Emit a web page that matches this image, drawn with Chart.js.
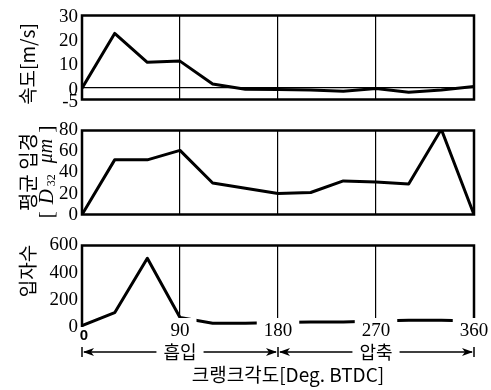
<!DOCTYPE html>
<html><head><meta charset="utf-8">
<script src="https://cdn.jsdelivr.net/npm/chart.js@4"></script>
<style>
html,body{margin:0;padding:0;background:#fff;}
#wrap{position:relative;width:491px;height:390px;background:#fff;}
canvas{position:absolute;left:0;}
</style></head><body>
<div id="wrap">
<canvas id="c1" width="491" height="115" style="top:0"></canvas>
<canvas id="c2" width="491" height="115" style="top:115px"></canvas>
<canvas id="c3" width="491" height="160" style="top:230px"></canvas>
</div>
<script>
const angles = [0, 30, 60, 90, 120, 150, 180, 210, 240, 270, 300, 330, 360];
const speed = [-0.3, 22.5, 10.5, 11, 1.5, -0.7, -0.8, -1, -1.5, -0.4, -1.9, -1, 0.4];
const diameter = [0, 52, 52, 61, 30, 25, 20, 21, 32, 31, 29, 81, 0];
const count = [10, 105, 505, 70, 28, 28, 33, 36, 36, 45, 50, 50, 45];
const xTicks = [0, 90, 180, 270, 360];
const speedTicks = [-5, 0, 10, 20, 30];
const diamTicks = [0, 20, 40, 60, 80];
const countTicks = [0, 200, 400, 600];
const speedTitle = '속도[m/s]';
const diamTitle1 = '평균 입경';
const countTitle = '입자수';
const phaseLabels = ['흡입', '압축'];
const xTitle = '크랭크각도[Deg. BTDC]';

const KR = "'Noto Sans CJK KR', 'Noto Sans', sans-serif";
const SERIF = "'Liberation Serif', 'DejaVu Serif', serif";

function pts(vals){ return angles.map((a,i)=>({x:a, y:vals[i]})); }

function framePlugin(bottom){
  return {
    id:'frame',
    afterDatasetsDraw(chart){
      const {ctx, chartArea:a} = chart;
      ctx.save();
      ctx.strokeStyle = '#000';
      ctx.lineWidth = 2.5;
      ctx.beginPath();
      if (bottom) {
        ctx.rect(a.left, a.top, a.right - a.left, a.bottom - a.top);
      } else {
        ctx.moveTo(a.left, a.bottom); ctx.lineTo(a.left, a.top);
        ctx.lineTo(a.right, a.top); ctx.lineTo(a.right, a.bottom);
      }
      ctx.stroke();
      ctx.restore();
    }
  };
}

function titlePlugin(drawFn){
  return { id:'ytitle', afterDraw(chart){ const ctx = chart.ctx; ctx.save(); drawFn(ctx, chart); ctx.restore(); } };
}

function rotText(ctx, text, cx, cy, font){
  ctx.save();
  ctx.translate(cx, cy);
  ctx.rotate(-Math.PI/2);
  ctx.font = font;
  ctx.fillStyle = '#000';
  ctx.textAlign = 'center';
  ctx.textBaseline = 'middle';
  ctx.fillText(text, 0, 0);
  ctx.restore();
}

function makeChart(id, vals, yMin, yMax, yTicks, pad, opts){
  return new Chart(document.getElementById(id), {
    type:'line',
    data:{ datasets:[{ data: pts(vals), borderColor:'#000', borderWidth:3, pointRadius:0, tension:0, fill:false, borderJoinStyle:'round', borderCapStyle:'round' }] },
    options:{
      responsive:false, animation:false, devicePixelRatio:1,
      layout:{ padding: pad },
      plugins:{ legend:{display:false}, tooltip:{enabled:false} },
      scales:{
        x:{
          type:'linear', min:0, max:360,
          afterBuildTicks: s => { s.ticks = xTicks.map(v=>({value:v})); },
          afterFit: s => { s.height = 0; },
          border:{display:false},
          grid:{ color:'#000', lineWidth:1.2, drawTicks:false },
          ticks:{ display:false }
        },
        y:{
          min:yMin, max:yMax,
          afterBuildTicks: s => { s.ticks = yTicks.map(v=>({value:v})); },
          afterFit: s => { s.width = 82; },
          border:{display:false},
          grid:{ drawTicks:false, lineWidth:1.2, color: c => (opts.zeroLine && c.tick && c.tick.value === 0) ? '#000' : 'rgba(0,0,0,0)' },
          ticks:{ color:'#000', padding:4, autoSkip:false, labelOffset: opts.labelOffset || 0, font:{family:SERIF, size:19} }
        }
      }
    },
    plugins:[framePlugin(!opts.noBottom), titlePlugin(opts.title)].concat(opts.extra || [])
  });
}

// Panel 1: speed
makeChart('c1', speed, -5, 30, speedTicks, {top:11, bottom:12, left:0, right:17}, {
  zeroLine:true, labelOffset:2,
  title:(ctx)=>{ rotText(ctx, speedTitle, 28, 64, "19px " + KR); }
});

// Panel 2: diameter
makeChart('c2', diameter, 0, 80, diamTicks, {top:11, bottom:10, left:0, right:17}, {
  title:(ctx)=>{
    rotText(ctx, diamTitle1, 28, 57, "20px " + KR);
    const pieces = [
      {t:'[', f:"22px " + SERIF, dy:0},
      {t:'D', f:"italic 21px " + SERIF, dy:0},
      {t:'32', f:"12px " + SERIF, dy:5},
      {t:'μm', f:"italic 20px " + SERIF, dy:0},
      {t:']', f:"22px " + SERIF, dy:0}
    ];
    const gaps = [4, 0, 8, 3];
    ctx.translate(47, 57);
    ctx.rotate(-Math.PI/2);
    ctx.fillStyle = '#000';
    ctx.textBaseline = 'middle';
    ctx.textAlign = 'left';
    let total = 0;
    pieces.forEach((p,i)=>{ ctx.font = p.f; p.w = ctx.measureText(p.t).width; total += p.w + (i < gaps.length ? gaps[i] : 0); });
    const target = 93;
    const extra = Math.max(0, (target - total) / gaps.length);
    let x = -Math.max(total, target) / 2;
    pieces.forEach((p,i)=>{
      ctx.font = p.f;
      ctx.fillText(p.t, x, p.dy);
      x += p.w + (i < gaps.length ? gaps[i] + extra : 0);
    });
  }
});

// Panel 3: x tick labels (over the data, with white backdrop) + phase arrows + axis title
const xLabelPlugin = {
  id:'xlabels',
  afterDatasetsDraw(chart){
    const ctx = chart.ctx, sx = chart.scales.x, a = chart.chartArea;
    ctx.save();
    ctx.textAlign = 'center'; ctx.textBaseline = 'middle';
    sx.ticks.forEach(t => {
      const x = sx.getPixelForValue(t.value);
      const label = String(t.value);
      if (t.value === 0) {
        ctx.font = "bold 15px 'Liberation Sans', sans-serif";
        ctx.fillStyle = '#000';
        ctx.fillText(label, x + 2, a.bottom + 9);
      } else {
        ctx.font = "19px " + SERIF;
        const w = ctx.measureText(label).width;
        ctx.fillStyle = '#fff';
        ctx.fillRect(x - w/2 - 7, a.bottom - 9, w + 14, 22);
        ctx.fillStyle = '#000';
        ctx.fillText(label, x, a.bottom + 4);
      }
    });
    ctx.restore();
  }
};

const arrowPlugin = {
  id:'arrows',
  afterDraw(chart){
    const ctx = chart.ctx, sx = chart.scales.x;
    const y = 122;
    const px = v => sx.getPixelForValue(v);
    ctx.save();
    ctx.strokeStyle = '#000'; ctx.fillStyle = '#000'; ctx.lineWidth = 1.5;
    function head(tip, dir){
      ctx.beginPath();
      ctx.moveTo(tip, y);
      ctx.lineTo(tip + dir*11, y - 4);
      ctx.lineTo(tip + dir*8, y);
      ctx.lineTo(tip + dir*11, y + 4);
      ctx.closePath();
      ctx.fill();
    }
    function seg(a, b, label, c){
      ctx.font = "18px " + KR;
      const w = ctx.measureText(label).width;
      ctx.beginPath();
      ctx.moveTo(a + 2, y); ctx.lineTo(c - w/2 - 7, y);
      ctx.moveTo(c + w/2 + 7, y); ctx.lineTo(b - 2, y);
      ctx.stroke();
      head(a + 1, 1);
      head(b - 1, -1);
      ctx.textAlign = 'center'; ctx.textBaseline = 'middle';
      ctx.fillText(label, c, y);
    }
    seg(px(0), px(180), phaseLabels[0], px(90));
    seg(px(180), px(360), phaseLabels[1], px(270));
    [0,180,360].forEach(v=>{
      const x = px(v);
      ctx.beginPath(); ctx.moveTo(x, y - 5); ctx.lineTo(x, y + 5); ctx.stroke();
    });
    ctx.font = "19px " + KR;
    ctx.textAlign = 'center'; ctx.textBaseline = 'middle';
    ctx.fillText(xTitle, 288, 145);
    ctx.restore();
  }
};

makeChart('c3', count, 0, 600, countTicks, {top:13, bottom:63, left:0, right:17}, {
  noBottom:true,
  title:(ctx)=>{ rotText(ctx, countTitle, 28, 41, "19px " + KR); },
  extra: [xLabelPlugin, arrowPlugin]
});
</script>
</body></html>
